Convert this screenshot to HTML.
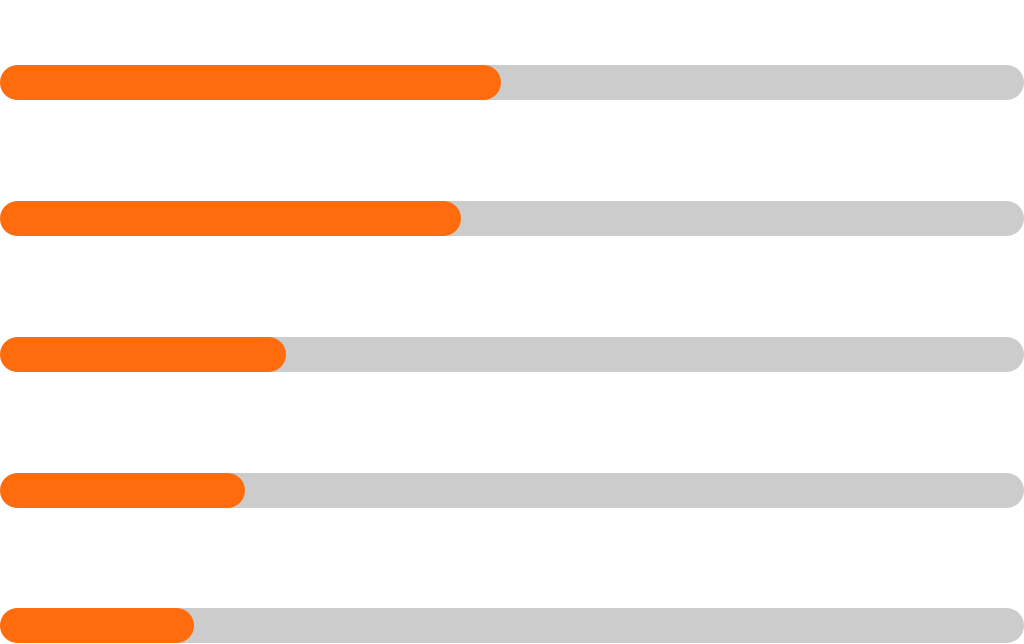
<!DOCTYPE html>
<html><head><style>
html,body{margin:0;padding:0;background:#fff;width:1024px;height:644px;overflow:hidden;position:relative}
.t{position:absolute;left:0;width:1024px;height:35px;border-radius:17.5px;background:#cccccc}
.f{position:absolute;left:0;top:0;height:35px;border-radius:17.5px;background:#ff6c0e}
</style></head><body>
<div class="t" style="top:65px"><div class="f" style="width:501px"></div></div>
<div class="t" style="top:201px"><div class="f" style="width:461px"></div></div>
<div class="t" style="top:337px"><div class="f" style="width:286px"></div></div>
<div class="t" style="top:473px"><div class="f" style="width:245px"></div></div>
<div class="t" style="top:608px"><div class="f" style="width:194px"></div></div>
</body></html>
